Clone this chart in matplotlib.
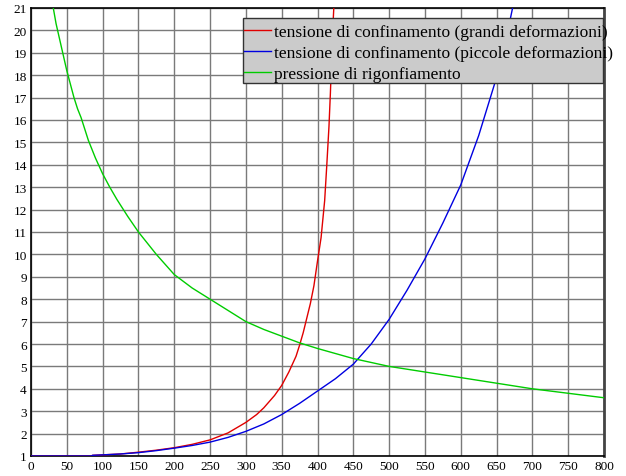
import matplotlib
matplotlib.use("Agg")
import matplotlib.pyplot as plt
from matplotlib.patches import Rectangle
import numpy as np

plt.rcParams['font.family'] = ['Liberation Serif', 'DejaVu Serif']

# grandi deformazioni (red)
x_grandi = [0, 84, 86, 100, 125, 150, 175, 200, 225, 250, 275, 300, 315, 325, 340, 350,
            360, 370, 375, 380, 390, 395, 400, 405, 410, 413, 416, 418, 420, 422, 423.5]
y_grandi = [1.0, 1.0, 1.03, 1.05, 1.09, 1.17, 1.26, 1.37, 1.52, 1.72, 2.03, 2.5, 2.85, 3.15, 3.7, 4.15,
            4.75, 5.45, 5.95, 6.5, 7.8, 8.6, 9.7, 10.75, 12.4, 14.0, 15.7, 17.2, 19.0, 20.5, 21.5]

# piccole deformazioni (blue)
x_piccole = [0, 84, 86, 100, 125, 150, 175, 200, 225, 250, 275, 300, 325, 350, 375, 400, 425,
             450, 475, 500, 525, 550, 575, 600, 625, 650, 660, 673]
y_piccole = [1.0, 1.0, 1.03, 1.05, 1.09, 1.15, 1.24, 1.35, 1.47, 1.62, 1.83, 2.1, 2.43, 2.85, 3.35, 3.9, 4.45,
             5.1, 6.0, 7.1, 8.4, 9.8, 11.4, 13.1, 15.3, 17.9, 19.1, 21.1]

# pressione di rigonfiamento (green)
x_press = [30, 35, 40, 45, 50, 55, 60, 65, 70, 80, 90, 100, 110, 120, 135, 150, 175, 200, 225,
           250, 275, 300, 325, 350, 375, 400, 450, 500, 550, 600, 650, 700, 750, 800]
y_press = [21.2, 20.3, 19.6, 18.9, 18.2, 17.6, 17.0, 16.5, 16.1, 15.1, 14.3, 13.6, 13.0, 12.45, 11.7, 11.0,
           10.0, 9.1, 8.5, 8.0, 7.5, 7.0, 6.65, 6.35, 6.05, 5.8, 5.35, 5.0, 4.75, 4.5, 4.25, 4.0, 3.8, 3.6]

labels = ["tensione di confinamento (grandi deformazioni)",
          "tensione di confinamento (piccole deformazioni)",
          "pressione di rigonfiamento"]

x_ticks = np.arange(0, 801, 50)
y_ticks = np.arange(1, 22, 1)

fig = plt.figure(figsize=(6.26, 4.77), dpi=100)
ax = fig.add_axes([31 / 626, 20 / 477, 573 / 626, 448 / 477])

ax.plot(x_grandi, y_grandi, color='#e00000', lw=1, label=labels[0], zorder=2.7)
ax.plot(x_piccole, y_piccole, color='#0000e0', lw=1, label=labels[1], zorder=2.7)
ax.plot(x_press, y_press, color='#00cc00', lw=1, label=labels[2], zorder=2.7)

ax.set_xlim(0, 800)
ax.set_ylim(1, 21)
ax.set_xticks(x_ticks)
ax.set_yticks(y_ticks)
ax.tick_params(length=0, labelsize=9.5, pad=3)
ax.grid(True, color='#7a7a7a', lw=1)
ax.set_axisbelow(True)

for s in ['left', 'bottom', 'top']:
    ax.spines[s].set_color('black')
    ax.spines[s].set_linewidth(1.2)
ax.spines['right'].set_color('#444444')
ax.spines['right'].set_linewidth(2)

# legend box (drawn separately, text overflows it slightly as in the original)
box = Rectangle((243 / 626, 1 - 84 / 477), 360 / 626, 65 / 477, transform=fig.transFigure,
                facecolor='#cbcbcb', edgecolor='#333333', lw=1, zorder=4, clip_on=False)
ax.add_patch(box)

leg = ax.legend(loc='upper left', bbox_to_anchor=(242 / 626, 1 - 23 / 477),
                bbox_transform=fig.transFigure, fontsize=12.55, frameon=False,
                borderpad=0.1, labelspacing=0.27, handlelength=1.55,
                handletextpad=0.2, borderaxespad=0)
leg.set_zorder(5)

fig.savefig("out.png", dpi=100)
